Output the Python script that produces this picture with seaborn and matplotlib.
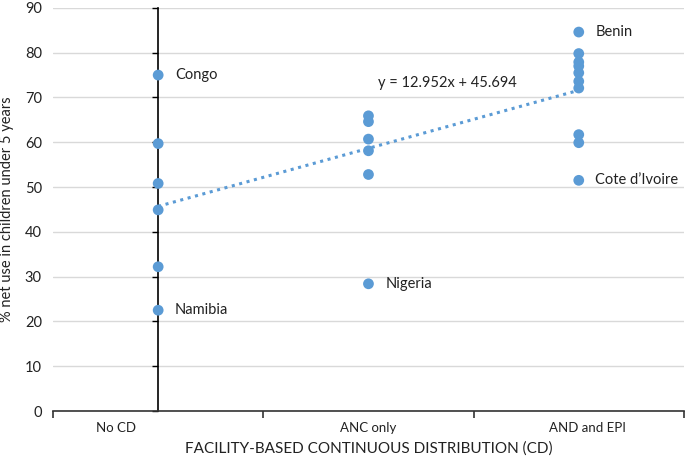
import numpy as np
import pandas as pd
import matplotlib
matplotlib.use("Agg")
import matplotlib.pyplot as plt
import seaborn as sns

# categories and values
categories = ["No CD", "ANC only", "AND and EPI"]
no_cd = [75.0, 59.7, 50.8, 44.9, 32.2, 22.5]
anc_only = [65.9, 64.6, 60.7, 58.1, 52.8, 28.4]
anc_epi = [84.6, 79.8, 77.9, 77.0, 75.5, 73.6, 72.1, 61.7, 59.9, 51.5]

# labelled countries: (group index, value, name)
labels = [(0, 75.0, "Congo"), (0, 22.5, "Namibia"), (1, 28.4, "Nigeria"),
          (2, 84.6, "Benin"), (2, 51.5, "Cote d\u2019Ivoire")]

# trendline as printed on the chart
slope, intercept = 12.952, 45.694

df = pd.DataFrame({
    "x": [0] * len(no_cd) + [1] * len(anc_only) + [2] * len(anc_epi),
    "y": no_cd + anc_only + anc_epi,
})

sns.set_style("white")
plt.rcParams["font.family"] = ["Lato", "DejaVu Sans"]
blue = "#5B9BD5"

fig = plt.figure(figsize=(6.85, 4.63), dpi=100)
ax = fig.add_axes([0.0774, 0.1123, 0.921, 0.8707])

# gridlines
ax.set_ylim(0, 90)
ax.set_xlim(-0.5, 2.5)
ax.set_yticks(np.arange(0, 91, 10))
ax.yaxis.grid(True, color="#d9d9d9", linewidth=1)
ax.set_axisbelow(True)

# trendline
xs = np.array([0, 2])
ax.plot(xs, slope * xs + intercept, linestyle=(0, (1, 1.5)), color=blue,
        linewidth=2.2, zorder=2)

sns.scatterplot(data=df, x="x", y="y", ax=ax, color=blue, s=60,
                edgecolor="none", zorder=3, legend=False)

for gx, gy, name in labels:
    ax.annotate(name, (gx, gy), xytext=(12, 0), textcoords="offset points",
                va="center", ha="left", fontsize=10.5, color="#222222")

ax.text(1.046, 73.2, f"y = {slope}x + {intercept}", fontsize=10.5,
        color="#222222", ha="left", va="center")

# spines: vertical axis at the "No CD" position, x axis at the bottom
for s in ["top", "right"]:
    ax.spines[s].set_visible(False)
ax.spines["left"].set_position(("data", 0))
ax.spines["left"].set_color("black")
ax.spines["left"].set_linewidth(1.2)
ax.spines["bottom"].set_color("#333333")
ax.spines["bottom"].set_linewidth(1.2)
ax.tick_params(axis="y", which="major", left=True, direction="out",
               length=4, width=1, color="black", labelleft=False)

# y tick labels at the left edge
sec = ax.secondary_yaxis(0.0)
sec.spines["left"].set_visible(False)
sec.set_yticks(np.arange(0, 91, 10))
sec.tick_params(length=0, labelsize=10.5, pad=8, labelcolor="#222222")
sec.set_ylabel("% net use in children under 5 years", fontsize=10.5,
               color="#222222", labelpad=8)

# x axis: category labels (placed as in the original), ticks between groups
ax.set_xticks([-0.2, 1.0, 2.04])
ax.set_xticklabels(categories)
ax.set_xticks([-0.5, 0.5, 1.5, 2.5], minor=True)
ax.tick_params(axis="x", which="major", length=0, labelsize=9.5, pad=8,
               labelcolor="#222222")
ax.tick_params(axis="x", which="minor", bottom=True, direction="out",
               length=5, width=1.2, color="#333333")
ax.set_xlabel("FACILITY-BASED CONTINUOUS DISTRIBUTION (CD)", fontsize=11,
              color="#222222", labelpad=5)
ax.set_ylabel("")

fig.savefig("out.png", dpi=100)
